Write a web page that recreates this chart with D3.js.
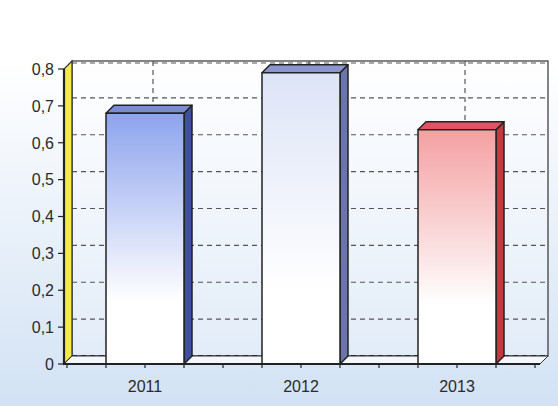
<!DOCTYPE html>
<html>
<head>
<meta charset="utf-8">
<script src="https://cdn.jsdelivr.net/npm/d3@7"></script>
<style>
  html, body { margin: 0; padding: 0; background: #fff; }
  #root { width: 558px; height: 406px; }
  text { font-family: "Liberation Sans", Arial, sans-serif; font-size: 16px; fill: #2a2a2a; }
</style>
</head>
<body>
<div id="root"></div>
<script>
const years = ["2011", "2012", "2013"];
const values = [0.68, 0.79, 0.635];
const yTicks = [0, 0.1, 0.2, 0.3, 0.4, 0.5, 0.6, 0.7, 0.8];
const barColors = [
	{ front: "#8da3ee", side: "#3e4f9e", top: "#7a8cd6" },
	{ front: "#dde4f7", side: "#6b74ad", top: "#8c96cc" },
	{ front: "#f4a0a2", side: "#c23a3e", top: "#df5463" }
];

const depth = 8;
const plotLeft = 64, plotRight = 540, plotBottom = 364, plotTop = 69;

const svg = d3.select("#root")
	.append("svg")
		.attr("width", 558)
		.attr("height", 406);

const defs = svg.append("defs");

const bgGrad = defs.append("linearGradient")
	.attr("id", "bg").attr("x1", 0).attr("y1", 0).attr("x2", 0).attr("y2", 1);
bgGrad.append("stop").attr("offset", "0.15").attr("stop-color", "#ffffff");
bgGrad.append("stop").attr("offset", "1").attr("stop-color", "#d2e2f4");

const wallGrad = defs.append("linearGradient")
	.attr("id", "wall").attr("x1", 0).attr("y1", 0).attr("x2", 0).attr("y2", 1);
wallGrad.append("stop").attr("offset", "0").attr("stop-color", "#ffffff");
wallGrad.append("stop").attr("offset", "1").attr("stop-color", "#e2ecf8");

barColors.forEach((c, i) => {
	const g = defs.append("linearGradient")
		.attr("id", "bar" + i).attr("x1", 0).attr("y1", 0).attr("x2", 0).attr("y2", 1);
	g.append("stop").attr("offset", "0").attr("stop-color", c.front);
	g.append("stop").attr("offset", "0.75").attr("stop-color", "#ffffff");
	g.append("stop").attr("offset", "1").attr("stop-color", "#ffffff");
});

svg.append("rect")
	.attr("width", 558).attr("height", 406)
	.attr("fill", "url(#bg)");

const y = d3.scaleLinear().domain([0, 0.8]).range([plotBottom, plotTop]);
const x = d3.scaleBand().domain(years).range([67, 535]).paddingInner(0.5).paddingOuter(0.25);

// back wall
svg.append("rect")
	.attr("x", plotLeft + depth).attr("y", y(0.8) - depth)
	.attr("width", plotRight - plotLeft).attr("height", y(0) - y(0.8))
	.attr("fill", "url(#wall)")
	.attr("stroke", "#333").attr("stroke-width", 1.2);

const grid = svg.append("g")
	.attr("stroke", "#555")
	.attr("stroke-width", 1.2)
	.attr("stroke-dasharray", "5,4");

grid.selectAll(".h")
	.data(yTicks)
	.enter()
	.append("line")
		.attr("x1", plotLeft + depth).attr("x2", plotRight + depth)
		.attr("y1", d => y(d) - depth + (d === 0.8 ? 2 : 0))
		.attr("y2", d => y(d) - depth + (d === 0.8 ? 2 : 0))
		.attr("stroke-width", d => d === 0 ? 2 : 1.2)
		.attr("stroke", d => d === 0 ? "#222" : "#555");

grid.selectAll(".v")
	.data(years)
	.enter()
	.append("line")
		.attr("x1", d => x(d) + x.bandwidth() / 2 + depth)
		.attr("x2", d => x(d) + x.bandwidth() / 2 + depth)
		.attr("y1", y(0.8) - depth)
		.attr("y2", y(0) - depth);

// left yellow wall
svg.append("polygon")
	.attr("points", [[plotLeft, y(0)], [plotLeft, y(0.8)], [plotLeft + depth, y(0.8) - depth], [plotLeft + depth, y(0) - depth]].join(" "))
	.attr("fill", "#f4ea4a")
	.attr("stroke", "#333").attr("stroke-width", 1.2);

// floor
svg.append("polygon")
	.attr("points", [[plotLeft, y(0)], [plotLeft + depth, y(0) - depth], [plotRight + depth, y(0) - depth], [plotRight, y(0)]].join(" "))
	.attr("fill", "#f4f8fd")
	.attr("stroke", "#333").attr("stroke-width", 1);

// bars
const bars = svg.selectAll(".bar")
	.data(years.map((d, i) => ({ year: d, value: values[i], i })))
	.enter()
	.append("g")
		.attr("class", "bar")
		.attr("stroke", "#222")
		.attr("stroke-width", 1.5)
		.attr("stroke-linejoin", "round");

bars.append("polygon")
	.attr("points", d => {
		const x1 = x(d.year) + x.bandwidth(), yt = y(d.value);
		return [[x1, y(0)], [x1 + depth, y(0) - depth], [x1 + depth, yt - depth], [x1, yt]].join(" ");
	})
	.attr("fill", d => barColors[d.i].side);

bars.append("polygon")
	.attr("points", d => {
		const x0 = x(d.year), x1 = x0 + x.bandwidth(), yt = y(d.value);
		return [[x0, yt], [x0 + depth, yt - depth], [x1 + depth, yt - depth], [x1, yt]].join(" ");
	})
	.attr("fill", d => barColors[d.i].top);

bars.append("rect")
	.attr("x", d => x(d.year))
	.attr("y", d => y(d.value))
	.attr("width", x.bandwidth())
	.attr("height", d => y(0) - y(d.value))
	.attr("fill", d => `url(#bar${d.i})`);

// axes
const axis = svg.append("g").attr("stroke", "#222");

axis.append("line")
	.attr("x1", plotLeft).attr("x2", plotLeft)
	.attr("y1", y(0.8)).attr("y2", y(0) + 1)
	.attr("stroke-width", 2.2);

axis.append("line")
	.attr("x1", plotLeft - 1).attr("x2", plotRight)
	.attr("y1", y(0)).attr("y2", y(0))
	.attr("stroke-width", 2.2);

axis.selectAll(".yt")
	.data(yTicks)
	.enter()
	.append("line")
		.attr("x1", plotLeft - 6).attr("x2", plotLeft)
		.attr("y1", d => y(d)).attr("y2", d => y(d))
		.attr("stroke-width", 1.2);

const quarter = x.step() / 4;
axis.selectAll(".xt")
	.data(d3.range(13))
	.enter()
	.append("line")
		.attr("x1", i => x(years[0]) - quarter + i * quarter)
		.attr("x2", i => x(years[0]) - quarter + i * quarter)
		.attr("y1", y(0)).attr("y2", y(0) + 4)
		.attr("stroke-width", 1.2);

const fmt = d => d === 0 ? "0" : d3.format(".1f")(d).replace(".", ",");

svg.selectAll(".ylab")
	.data(yTicks)
	.enter()
	.append("text")
		.attr("x", plotLeft - 10)
		.attr("y", d => y(d))
		.attr("dy", "0.36em")
		.attr("text-anchor", "end")
		.text(fmt);

svg.selectAll(".xlab")
	.data(years)
	.enter()
	.append("text")
		.attr("x", d => x(d) + x.bandwidth() / 2)
		.attr("y", 392)
		.attr("text-anchor", "middle")
		.text(d => d);
</script>
</body>
</html>
